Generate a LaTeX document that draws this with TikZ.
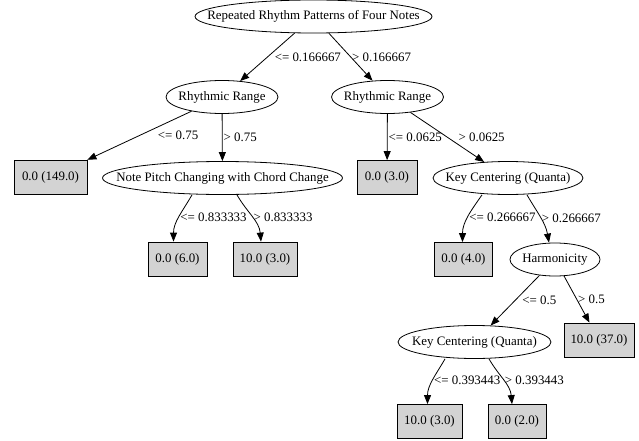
\documentclass[tikz,border=0pt]{standalone}
\usepackage{fontspec}
\setmainfont{Liberation Serif}
\usepackage{xcolor}
\definecolor{leafFill}{HTML}{D3D3D3}
\definecolor{treeLine}{HTML}{000000}
\usepackage{tikz}
\usetikzlibrary{shapes.geometric,arrows.meta}
\tikzset{
    split/.style={
        draw=treeLine,
        ellipse,
        inner sep=0pt,
        minimum height=33pt,
        line width=0.8pt,
        font=\fontsize{12.9}{15}\selectfont,
        execute at begin node={\hbox to 0pt\bgroup\hss},
        execute at end node={\hss\egroup}
    },
    leaf/.style={
        draw=treeLine,
        fill=leafFill,
        rectangle,
        inner sep=0pt,
        minimum height=34pt,
        line width=0.8pt,
        font=\fontsize{12.9}{15}\selectfont
    },
    branch/.style={
        -{Triangle[length=9pt,width=7pt]},
        line width=0.8pt,
        color=treeLine
    },
    cond/.style={
        font=\fontsize{12.9}{15}\selectfont,
        midway,
        anchor=west,
        inner sep=1pt
    }
}

\begin{document}
\begin{tikzpicture}[x=1pt, y=1pt]
    \useasboundingbox (0,0) rectangle (639,-441);

    \node[split, minimum width=237pt] (root) at (313.5,-16.5) {Repeated Rhythm Patterns of Four Notes};
    \node[split, minimum width=112pt] (rrL) at (222,-97) {Rhythmic Range};
    \node[split, minimum width=112pt] (rrR) at (387.5,-97) {Rhythmic Range};
    \node[leaf, minimum width=73pt] (b149) at (50.5,-177) {0.0 (149.0)};
    \node[split, minimum width=240pt] (np) at (222.5,-178) {Note Pitch Changing with Chord Change};
    \node[leaf, minimum width=60pt] (b3a) at (387,-177.5) {0.0 (3.0)};
    \node[split, minimum width=150pt] (kc1) at (508,-178) {Key Centering (Quanta)};
    \node[leaf, minimum width=59pt] (b6) at (177.5,-259) {0.0 (6.0)};
    \node[leaf, minimum width=64pt] (b3c) at (265,-259) {10.0 (3.0)};
    \node[leaf, minimum width=58pt] (b4) at (463.5,-259.5) {0.0 (4.0)};
    \node[split, minimum width=90pt] (harm) at (555,-259.5) {Harmonicity};
    \node[split, minimum width=153pt] (kc2) at (474.5,-342) {Key Centering (Quanta)};
    \node[leaf, minimum width=70pt] (b37) at (599,-340) {10.0 (37.0)};
    \node[leaf, minimum width=65pt] (b3b) at (429.5,-421.5) {10.0 (3.0)};
    \node[leaf, minimum width=58pt] (b2) at (517,-421.5) {0.0 (2.0)};

    \draw[branch] (root) -- node[cond, xshift=6pt] {<= 0.166667} (rrL);
    \draw[branch] (root) -- node[cond] {> 0.166667} (rrR);
    \draw[branch] (rrL) -- node[cond, xshift=17pt] {<= 0.75} (b149);
    \draw[branch] (rrL) -- node[cond] {> 0.75} (np);
    \draw[branch] (rrR) -- node[cond] {<= 0.0625} (b3a);
    \draw[branch] (rrR) -- node[cond, xshift=10pt] {> 0.0625} (kc1);
    \draw[branch] ([xshift=-30.5pt]np.south) to[out=-120, in=90] node[cond] {<= 0.833333} ([xshift=-4pt]b6.north);
    \draw[branch] ([xshift=14.5pt]np.south) to[out=-60, in=95] node[cond] {> 0.833333} ([xshift=-4pt]b3c.north);
    \draw[branch] ([xshift=-26pt]kc1.south) to[out=-125, in=90] node[cond] {<= 0.266667} ([xshift=-1pt]b4.north);
    \draw[branch] ([xshift=19pt]kc1.south) to[out=-60, in=100] node[cond] {> 0.266667} ([xshift=-6pt]harm.north);
    \draw[branch] (harm) -- node[cond, xshift=6pt] {<= 0.5} (kc2);
    \draw[branch] (harm) -- node[cond] {> 0.5} (b37);
    \draw[branch] ([xshift=-29.5pt]kc2.south) to[out=-120, in=90] node[cond] {<= 0.393443} ([xshift=-2pt]b3b.north);
    \draw[branch] ([xshift=14.5pt]kc2.south) to[out=-60, in=95] node[cond] {> 0.393443} ([xshift=-5pt]b2.north);
\end{tikzpicture}
\end{document}
